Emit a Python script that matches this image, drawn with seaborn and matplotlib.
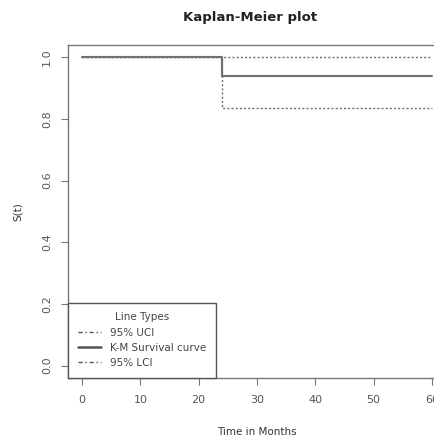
import pandas as pd
import seaborn as sns
import matplotlib.pyplot as plt
from matplotlib.lines import Line2D

# Kaplan-Meier estimate with 95% limits
time = [0, 24, 60]
surv = [1.0, 0.94, 0.94]
uci = [1.0, 1.0, 1.0]
lci = [1.0, 0.837, 0.837]
x_ticks = [0, 10, 20, 30, 40, 50, 60]
y_ticks = [0.0, 0.2, 0.4, 0.6, 0.8, 1.0]

sns.set_style("ticks")
plt.rcParams['font.family'] = ['DejaVu Sans']
plt.rcParams['font.size'] = 8

df = pd.DataFrame({"Time": time * 3,
                   "S": surv + uci + lci,
                   "curve": ["K-M Survival curve"] * 3 + ["95% UCI"] * 3 + ["95% LCI"] * 3})

fig = plt.figure(figsize=(4.35, 4.4), dpi=100)
ax = fig.add_axes([68 / 435, 1 - 378 / 440, (446 - 68) / 435, (378 - 45) / 440])

lc = '#707070'
for name, ls, lw in [("95% UCI", (0, (1.5, 1.5)), 1.0), ("95% LCI", (0, (1.5, 1.5)), 1.0),
                     ("K-M Survival curve", '-', 1.5)]:
    sns.lineplot(data=df[df.curve == name], x="Time", y="S", drawstyle="steps-post",
                 color=lc, linestyle=ls, linewidth=lw, ax=ax, legend=False, estimator=None)

ax.set_xlim(-2.4, 62.4)
ax.set_ylim(-0.04, 1.04)
ax.set_xticks(x_ticks)
ax.set_xticklabels([str(v) for v in x_ticks])
ax.set_yticks(y_ticks)
ax.set_yticklabels([f"{v:.1f}" for v in y_ticks], rotation=90, va='center', ha='center')
ax.tick_params(axis='both', length=5, width=0.8, color='#777777', labelcolor='#555555',
               labelsize=8)
ax.tick_params(axis='y', pad=10)
ax.tick_params(axis='x', pad=7)
for s in ax.spines.values():
    s.set_color('#777777')
    s.set_linewidth(1.0)
ax.set_xlabel("Time in Months", fontsize=7.5, color='#333333', labelpad=16)
ax.set_ylabel("S(t)", fontsize=7.5, color='#333333', labelpad=14)
fig.text(250 / 435, 1 - 18 / 440, "Kaplan-Meier plot", ha='center', va='center',
         fontsize=9.5, fontweight='bold', color='#222222')

handles = [Line2D([], [], color='#555555', linestyle=(0, (3, 2, 1, 2)), lw=1),
           Line2D([], [], color='#555555', linestyle='-', lw=1.8),
           Line2D([], [], color='#555555', linestyle=(0, (3, 2, 1, 2)), lw=1)]
leg = ax.legend(handles, ["95% UCI", "K-M Survival curve", "95% LCI"], title="Line Types",
                loc='lower left', bbox_to_anchor=(0, 0), borderaxespad=0, fancybox=False,
                fontsize=7.5, title_fontsize=7.5, handlelength=2.2, labelspacing=0.5,
                borderpad=0.95, handletextpad=0.9, framealpha=1)
leg.get_frame().set_edgecolor('#555555')
leg.get_frame().set_linewidth(1.0)
for t in leg.get_texts():
    t.set_color('#444444')
leg.get_title().set_color('#444444')

fig.savefig("out.png", dpi=100)
